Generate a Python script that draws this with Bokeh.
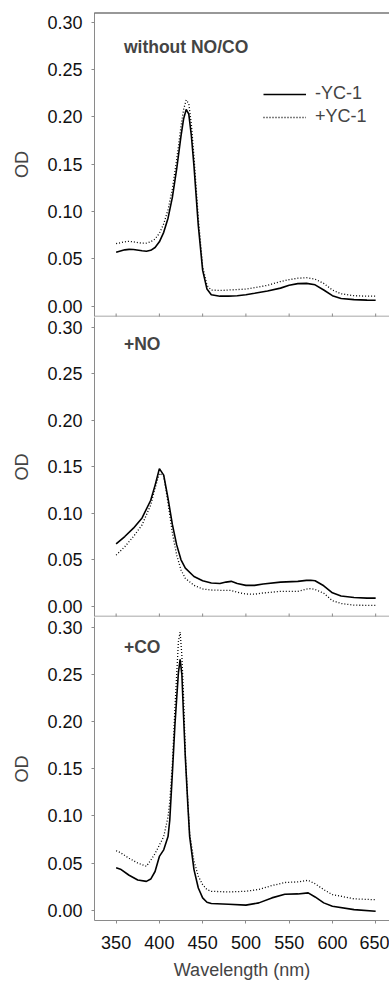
import math
from bokeh.plotting import figure
from bokeh.models import Range1d, FixedTicker, NumeralTickFormatter, Span, Label, Legend, LegendItem
from bokeh.layouts import column
from bokeh.embed import file_html
from bokeh.resources import INLINE

# ---------------- data ----------------
panel_labels = ["without NO/CO", "+NO", "+CO"]
series_labels = ["-YC-1", "+YC-1"]
x_ticks = [350, 400, 450, 500, 550, 600, 650]
y_ticks = [0.0, 0.05, 0.10, 0.15, 0.20, 0.25, 0.30]

# panel 1: without NO/CO
wl_a = [350, 360, 365, 370, 380, 385, 390, 395, 400, 405, 410, 415, 420, 425, 428, 431, 434, 437,
        440, 445, 450, 455, 460, 470, 480, 490, 500, 510, 525, 540, 550, 560, 570, 580, 590, 600,
        610, 625, 640, 650]
od_a_minus = [0.057, 0.0595, 0.060, 0.0598, 0.0585, 0.058, 0.059, 0.062, 0.068, 0.078, 0.093, 0.115,
              0.145, 0.180, 0.198, 0.208, 0.203, 0.180, 0.148, 0.085, 0.038, 0.018, 0.012, 0.0105,
              0.0105, 0.011, 0.012, 0.0135, 0.016, 0.019, 0.022, 0.0238, 0.024, 0.0225, 0.017, 0.011,
              0.008, 0.0068, 0.0063, 0.0062]
od_a_plus = [0.066, 0.068, 0.0685, 0.068, 0.0665, 0.0665, 0.068, 0.071, 0.077, 0.087, 0.102, 0.124,
             0.155, 0.190, 0.208, 0.218, 0.214, 0.192, 0.158, 0.093, 0.042, 0.022, 0.017, 0.0165,
             0.017, 0.0175, 0.018, 0.0195, 0.022, 0.026, 0.028, 0.0295, 0.030, 0.0285, 0.024, 0.017,
             0.013, 0.011, 0.0105, 0.0105]

# panel 2: +NO
wl_b = [350, 360, 370, 380, 390, 395, 400, 405, 410, 415, 420, 425, 430, 440, 450, 460, 470, 477,
        483, 490, 500, 510, 520, 540, 560, 570, 575, 580, 590, 600, 610, 625, 640, 650]
od_b_minus = [0.067, 0.075, 0.084, 0.095, 0.114, 0.130, 0.148, 0.141, 0.116, 0.088, 0.066, 0.050,
              0.041, 0.032, 0.0275, 0.025, 0.0245, 0.026, 0.0268, 0.0245, 0.0225, 0.0225, 0.024,
              0.026, 0.0268, 0.0278, 0.028, 0.0275, 0.022, 0.0145, 0.011, 0.0095, 0.0088, 0.0088]
od_b_plus = [0.055, 0.064, 0.075, 0.0875, 0.109, 0.127, 0.143, 0.140, 0.111, 0.079, 0.055, 0.039,
             0.030, 0.0225, 0.0186, 0.0175, 0.0172, 0.017, 0.017, 0.015, 0.0132, 0.013, 0.0143,
             0.016, 0.016, 0.0185, 0.019, 0.018, 0.014, 0.006, 0.003, 0.0012, 0.001, 0.001]

# panel 3: +CO
wl_c = [350, 355, 365, 375, 385, 390, 395, 400, 405, 410, 412, 415, 418, 420, 422, 424, 426, 428,
        430, 433, 435, 440, 445, 450, 455, 460, 480, 500, 515, 530, 545, 560, 572, 580, 590, 600,
        625, 650]
od_c_minus = [0.045, 0.0435, 0.037, 0.032, 0.0305, 0.033, 0.041, 0.057, 0.064, 0.078, 0.0955, 0.145,
              0.197, 0.225, 0.252, 0.266, 0.250, 0.205, 0.162, 0.110, 0.078, 0.043, 0.0235, 0.013,
              0.0084, 0.007, 0.0063, 0.0053, 0.0077, 0.013, 0.0169, 0.0172, 0.0183, 0.014, 0.0077,
              0.0042, 0.0005, -0.0012]
od_c_plus = [0.063, 0.061, 0.055, 0.050, 0.0465, 0.053, 0.060, 0.069, 0.078, 0.099, 0.115, 0.155,
             0.215, 0.250, 0.285, 0.295, 0.270, 0.225, 0.166, 0.113, 0.081, 0.052, 0.036, 0.027,
             0.0218, 0.020, 0.0193, 0.020, 0.022, 0.026, 0.0293, 0.030, 0.0316, 0.028, 0.0218,
             0.0165, 0.012, 0.011]

wavelengths = [wl_a, wl_b, wl_c]
minus_series = [od_a_minus, od_b_minus, od_c_minus]
plus_series = [od_a_plus, od_b_plus, od_c_plus]
label_y = [0.2735, 0.2825, 0.2787]

# ---------------- style ----------------
FONT = "Liberation Sans"
FS = "18px"
AX = "#8a8a8a"
Y0, Y1 = -0.011, 0.3105
heights = [317, 300, 368]
tops = [12, 0, 0]
bottoms = [1, 1, 65]

figs = []
for i in range(3):
    last = (i == 2)
    p = figure(width=389, height=heights[i], x_range=Range1d(325, 666),
               y_range=Range1d(Y0, Y1), output_backend="svg", toolbar_location=None,
               min_border_left=94, min_border_right=0, min_border_top=tops[i],
               min_border_bottom=bottoms[i])
    p.outline_line_color = None
    p.grid.visible = False

    r1 = p.line(wavelengths[i], minus_series[i], line_color="black", line_width=1.6)
    r2 = p.line(wavelengths[i], plus_series[i], line_color="black", line_width=1.3, line_dash="1 2")

    ya = p.yaxis[0]
    ya.ticker = FixedTicker(ticks=y_ticks)
    ya.formatter = NumeralTickFormatter(format="0.00")
    ya.axis_label = "OD"
    ya.axis_label_text_font = FONT
    ya.axis_label_text_font_style = "normal"
    ya.axis_label_text_font_size = FS
    ya.axis_label_standoff = 12
    ya.major_label_text_font = FONT
    ya.major_label_text_font_size = FS
    ya.major_label_text_color = "#111111"
    ya.major_label_standoff = 9
    ya.axis_line_color = AX
    ya.major_tick_line_color = AX
    ya.major_tick_out = 3
    ya.major_tick_in = 0
    ya.minor_tick_line_color = None

    xa = p.xaxis[0]
    if last:
        xa.ticker = FixedTicker(ticks=x_ticks)
        xa.axis_line_color = AX
        xa.major_tick_line_color = AX
        xa.minor_tick_line_color = None
        xa.major_label_text_font = FONT
        xa.major_label_text_font_size = FS
        xa.major_label_text_color = "#111111"
        xa.major_tick_out = 3
        xa.major_tick_in = 0
        xa.major_label_standoff = 12
        xa.axis_label = "Wavelength (nm)"
        xa.axis_label_text_font = FONT
        xa.axis_label_text_font_style = "normal"
        xa.axis_label_text_font_size = FS
        xa.axis_label_standoff = 8
    else:
        xa.visible = False
        p.add_layout(Span(location=Y0, dimension="width", line_color=AX, line_width=1.5))
        p.scatter(x_ticks, [Y0] * len(x_ticks), marker="dash", size=6, angle=math.pi / 2,
                  line_color=AX, line_width=1)

    if i == 0:
        p.add_layout(Span(location=Y1, dimension="width", line_color="#333333", line_width=2))
        legend = Legend(items=[LegendItem(label=series_labels[0], renderers=[r1]),
                               LegendItem(label=series_labels[1], renderers=[r2])],
                        location=(169, 189), padding=0, margin=0, spacing=2,
                        glyph_width=43, glyph_height=20, label_height=20, label_standoff=9,
                        label_text_font=FONT, label_text_font_size=FS,
                        border_line_color=None, background_fill_alpha=0)
        p.add_layout(legend)

    p.add_layout(Label(x=359, y=label_y[i], text=panel_labels[i], text_font=FONT,
                       text_font_style="bold", text_font_size="17.5px", text_baseline="middle"))
    figs.append(p)

layout = column(*figs, spacing=0)
open("out.html", "w").write(file_html(layout, INLINE))
